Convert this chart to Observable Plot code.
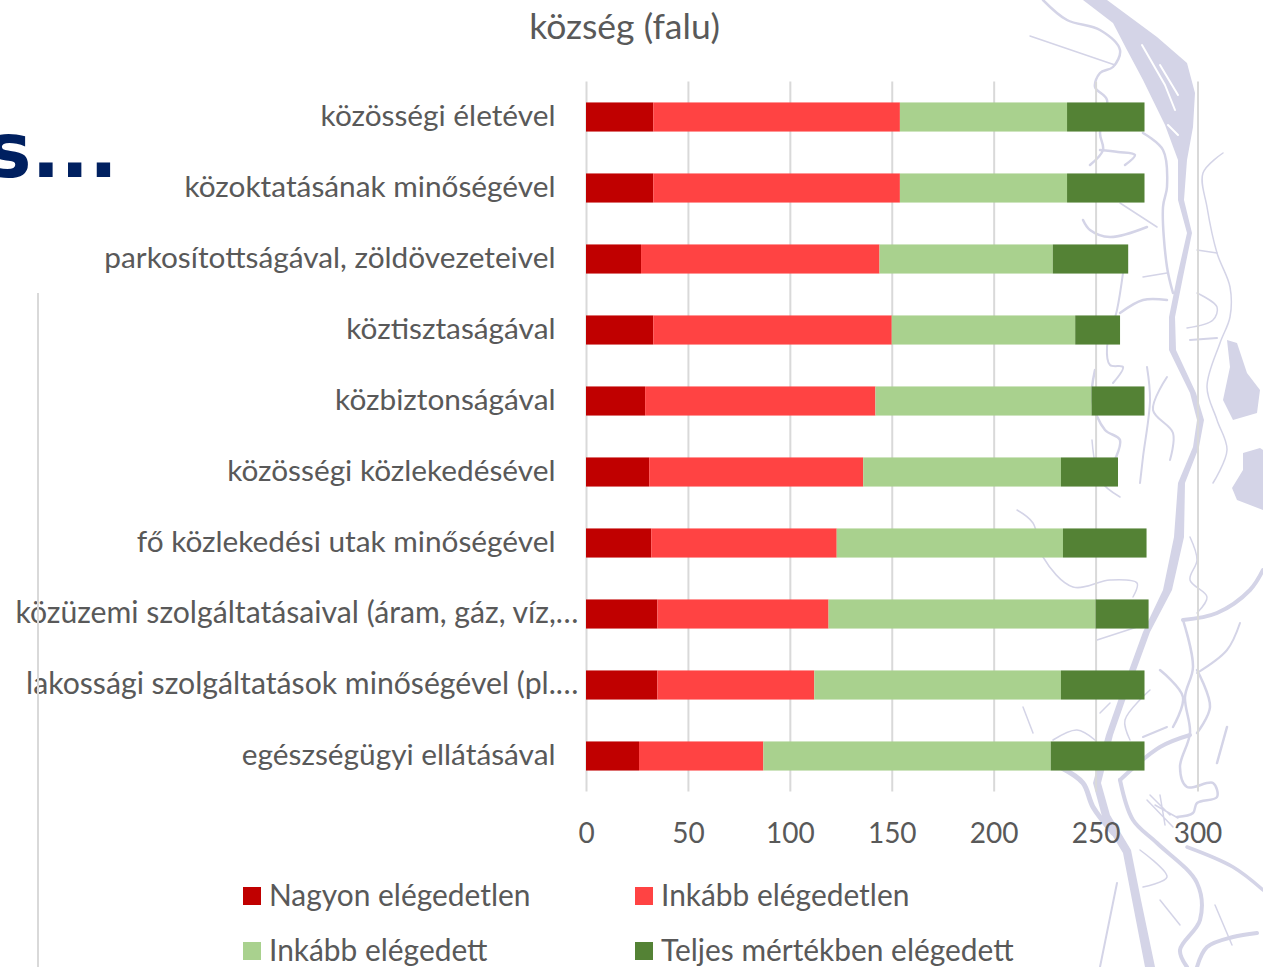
<!DOCTYPE html>
<html lang="hu">
<head>
<meta charset="utf-8">
<script src="https://cdn.jsdelivr.net/npm/d3@7"></script>
<script src="https://cdn.jsdelivr.net/npm/@observablehq/plot@0.6"></script>
<style>
html,body{margin:0;padding:0;width:1263px;height:967px;overflow:hidden;background:#fff;font-family:Lato,sans-serif;color:#595959}
#stage{position:relative;width:1263px;height:967px;overflow:hidden}
#stage>*{position:absolute}
#river{left:0;top:0}
#river path{fill:none;stroke:#d4d4e7;stroke-linecap:round;stroke-linejoin:round}
#river path.f{fill:#d4d4e7;stroke:none}
#river path.w{stroke:#fff}
#chart{left:0;top:0}
#title{left:0;width:1249px;top:4px;text-align:center;font-size:35.5px;line-height:44px}
#head{right:1145px;top:106px;font:700 76px/90px "DejaVu Sans",sans-serif;color:#002060;white-space:nowrap}
#vline{left:37px;top:293px;width:2px;height:674px;background:#d9d9d9}
.k{height:18px;width:18px}
.l{font-size:29.9px;line-height:36px;white-space:nowrap}
</style>
</head>
<body>
<div id="stage">
<svg id="river" width="1263" height="967" viewBox="0 0 1263 967">
<path class="f" d="M1083 0L1107 0L1157 37L1187 63L1195 93L1193 127L1187 160L1184 200L1192 233L1183 277L1175 317L1176 350L1196 393L1204 420L1199 447L1185 483L1184 537L1172 590L1150 632L1127 695L1113 735L1101 783L1110 815L1131 850L1141 900L1155 967L1145 967L1133 905L1123 853L1103 820L1093 783L1106 735L1120 695L1143 632L1163 590L1174 537L1178 483L1193 447L1197 420L1190 393L1169 350L1169 317L1177 277L1187 233L1178 200L1178 160L1165 125L1143 80L1127 50L1113 23Z"/>
<path class="w" stroke-width="2" d="M1142 45L1165 85L1175 110M1160 65L1178 95M1168 125L1178 135"/>
<path class="f" d="M1227 340L1237 343L1247 373L1260 390L1257 413L1233 420L1223 400L1230 367Z"/>
<path class="f" d="M1243 453L1260 448L1263 450L1263 510L1237 500L1232 488L1243 470Z"/>
<g class="s" stroke-width="2.5">
<path d="M1043 0L1067 20L1100 30L1120 50L1113 67L1100 73L1095 87L1107 100L1100 133L1103 150L1090 165"/>
<path stroke-width="1.5" d="M1030 36L1115 65"/>
<path d="M1100 150L1118 152L1135 155L1125 165"/>
<path d="M1083 220L1090 230L1110 237L1147 227"/>
<path stroke-width="1.5" d="M1120 203L1157 227"/>
<path d="M1143 133L1163 150L1167 187L1163 207L1167 267L1173 293"/>
<path stroke-width="1.5" d="M1143 277L1167 273"/>
<path d="M1120 313L1143 300L1167 300"/>
<path stroke-width="2" d="M1123 273L1117 310L1107 347L1110 365L1123 367L1113 383"/>
<path stroke-width="2" d="M1147 367L1150 400L1143 457L1140 483"/>
<path stroke-width="2" d="M1167 377L1153 410L1173 433L1170 460"/>
<path stroke-width="1.5" d="M1223 153L1203 173L1207 207L1217 253L1230 287L1230 317L1220 343L1207 387L1217 420L1227 450L1213 483"/>
<path stroke-width="1.5" d="M1197 250L1217 253"/>
<path stroke-width="2" d="M1190 340L1217 338"/>
<path stroke-width="1.5" d="M1197 293L1217 307L1213 320L1187 328"/>
<path d="M1095 370L1092 400L1105 430L1120 440L1110 470"/>
<path stroke-width="1.5" d="M1092 440L1100 480L1120 497"/>
<path stroke-width="1.5" d="M1017 510L1033 523L1043 557L1073 587L1110 580L1137 583L1133 597"/>
<path stroke-width="1.5" d="M1190 537L1197 560L1190 580L1207 597L1197 613"/>
<path stroke-width="4" d="M1183 620L1217 613L1250 590L1263 570"/>
<path d="M1183 620L1193 667L1185 697L1190 733L1180 767L1187 787L1213 783L1217 797L1197 803L1193 813L1177 817"/>
<path d="M1197 670L1210 707L1197 733"/>
<path stroke-width="2" d="M1240 623L1227 650L1197 673"/>
<path stroke-width="4" d="M1120 780L1160 747L1190 735"/>
<path stroke-width="2" d="M1143 737L1167 727"/>
<path d="M1160 670L1183 697L1173 727"/>
<path stroke-width="5" d="M1060 767L1083 783L1093 807L1113 833"/>
<path stroke-width="4" d="M1120 780L1133 820L1157 843L1197 883L1200 920L1180 950L1187 967"/>
<path stroke-width="3.5" d="M1187 847L1233 867L1263 890"/>
<path stroke-width="4" d="M1197 967L1207 947L1233 937L1257 933"/>
<path stroke-width="1.5" d="M1140 850L1167 877L1143 887"/>
<path stroke-width="2" d="M1117 883L1100 967"/>
<path stroke-width="1.5" d="M1147 800L1173 827M1150 795L1170 815M1155 805L1178 818M1160 795L1165 825"/>
<path stroke-width="2.5" d="M1227 727L1217 763"/>
<path stroke-width="1.5" d="M1097 640L1137 627M1110 703L1100 713"/>
<path stroke-width="1.5" d="M1023 707L1033 733M1053 740L1077 730L1095 740"/>
<path stroke-width="1.5" d="M1150 690L1125 720L1130 740"/>
<path stroke-width="1.5" d="M1160 900L1180 925M1232 945L1215 905"/>
</g>
</svg>
<div id="chart"></div>
<div id="title">község (falu)</div>
<div id="head">s...</div>
<div id="vline"></div>
<div class="k" style="left:243px;top:887px;background:#C00000"></div>
<div class="l" style="left:269px;top:876px">Nagyon elégedetlen</div>
<div class="k" style="left:635px;top:887px;background:#FF4343"></div>
<div class="l" style="left:661px;top:876px">Inkább elégedetlen</div>
<div class="k" style="left:243px;top:942px;background:#A9D18E"></div>
<div class="l" style="left:269px;top:931px">Inkább elégedett</div>
<div class="k" style="left:635px;top:942px;background:#548235"></div>
<div class="l" style="left:661px;top:931px">Teljes mértékben elégedett</div>
</div>
<script>
const categories = [
  "közösségi életével",
  "közoktatásának minőségével",
  "parkosítottságával, zöldövezeteivel",
  "köztisztaságával",
  "közbiztonságával",
  "közösségi közlekedésével",
  "fő közlekedési utak minőségével",
  "közüzemi szolgáltatásaival (áram, gáz, víz,…",
  "lakossági szolgáltatások minőségével (pl.…",
  "egészségügyi ellátásával"
];
const longLabels = [categories[7], categories[8]];
const shortLabels = categories.filter(c => !longLabels.includes(c));
const seriesNames = ["Nagyon elégedetlen", "Inkább elégedetlen", "Inkább elégedett", "Teljes mértékben elégedett"];
const seriesColors = ["#C00000", "#FF4343", "#A9D18E", "#548235"];
const nagyonElegedetlen = [33, 33, 27, 33, 29, 31, 32, 35, 35, 26];
const inkabbElegedetlen = [121, 121, 117, 117, 113, 105, 91, 84, 77, 61];
const inkabbElegedett = [82, 82, 85, 90, 106, 97, 111, 131, 121, 141];
const teljesen = [38, 38, 37, 22, 26, 28, 41, 26, 41, 46];
const xTicks = [0, 50, 100, 150, 200, 250, 300];

const allSeries = [nagyonElegedetlen, inkabbElegedetlen, inkabbElegedett, teljesen];
const rows = allSeries.flatMap((vals, s) =>
  vals.map((v, i) => ({category: categories[i], series: seriesNames[s], value: v})));

// Soften the decorative backdrop's polylines into river-like curves.
const smooth = d3.line().curve(d3.curveCatmullRom.alpha(0.5));
document.querySelectorAll("#river g.s path").forEach(p => {
  const d = p.getAttribute("d").split("M").filter(Boolean).map(sub =>
    smooth(sub.split("L").map(pt => pt.trim().split(" ").map(Number))));
  p.setAttribute("d", d.join(""));
});

const axisStyle = {tickSize: 0, color: "#595959", label: null, stroke: "none", fill: "#595959"};
const plot = Plot.plot({
  width: 1263,
  height: 967,
  marginLeft: 586,
  marginRight: 65.5,
  marginTop: 81.5,
  marginBottom: 175.5,
  style: {background: "transparent", fontFamily: "Lato, sans-serif", color: "#595959"},
  x: {domain: [0, 300]},
  y: {domain: categories, paddingInner: 0.59, paddingOuter: 0.295, round: false},
  color: {domain: seriesNames, range: seriesColors},
  marks: [
    Plot.gridX(xTicks, {stroke: "#d9d9d9", strokeOpacity: 1, strokeWidth: 2}),
    Plot.barX(rows, {x: "value", y: "category", fill: "series", order: null, inset: 0}),
    Plot.axisX(xTicks, {...axisStyle, fontSize: 28, tickPadding: 31, anchor: "bottom"}),
    Plot.axisY(shortLabels, {...axisStyle, fontSize: 29.8, tickPadding: 31, anchor: "left", dy: -1}),
    Plot.axisY(longLabels, {...axisStyle, fontSize: 30.2, tickPadding: 8, anchor: "left", dy: -1})
  ]
});
document.getElementById("chart").appendChild(plot);
</script>
</body>
</html>
